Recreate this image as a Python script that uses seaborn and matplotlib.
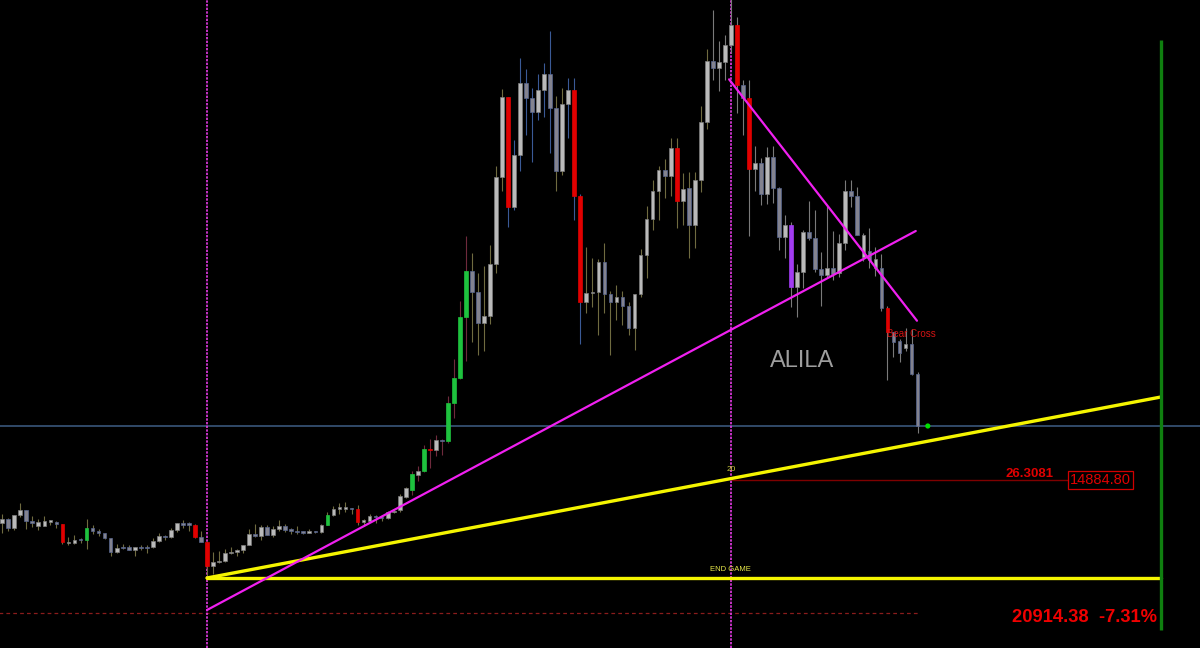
import numpy as np
import pandas as pd
import seaborn as sns
import matplotlib.pyplot as plt

# weekly candles, one per week (index 0 .. 152)
opens = [10190, 10590, 9530, 10980, 11580, 10320, 9840, 9760, 10390, 10300,
         10030, 8050, 7860, 8275, 8290, 9550, 9300, 9030, 8500, 6900,
         7400, 7510, 7100, 7510, 7330, 7420, 8180, 8700, 8600, 9350,
         10150, 10100, 9960, 8530, 8030, 5360, 5820, 5880, 6770, 6900,
         7120, 7700, 8900, 8720, 9670, 8840, 9450, 9750, 9380, 9300,
         9120, 9080, 9270, 9160, 9930, 11050, 11700, 11900, 11650, 11700,
         10300, 10330, 10930, 10770, 10670, 11380, 11600, 13030, 13800, 15480,
         15960, 18400, 18200, 19360, 19270, 23480, 26250, 33000, 38150, 35830,
         32340, 33100, 38900, 48620, 57460, 45200, 50980, 59000, 57320, 55840,
         58230, 60020, 56220, 49190, 56670, 58250, 46460, 34680, 35690, 35800,
         39160, 35600, 34700, 35300, 34250, 31780, 35540, 39900, 43880, 47020,
         49350, 48690, 51850, 45950, 47320, 43250, 48250, 54660, 61470, 60730,
         61320, 63240, 65460, 58800, 57320, 49470, 50100, 46650, 50840, 47310,
         41940, 43250, 36320, 37990, 42430, 41830, 38350, 37690, 38500, 37900,
         41300, 46990, 46430, 42150, 40400, 39470, 38430, 34000, 31360, 30350,
         29580, 30020, 26690]
highs = [11090, 10650, 11050, 12320, 11600, 10950, 10600, 10900, 10450, 10350,
         10080, 8550, 8800, 8420, 10540, 9940, 9500, 9075, 8520, 7850,
         7750, 7650, 7520, 7700, 7650, 8480, 9000, 8800, 9580, 10190,
         10500, 10300, 10030, 9200, 8180, 6900, 6980, 7200, 7470, 7300,
         7720, 9460, 10070, 9940, 9900, 9750, 10430, 9990, 9600, 9780,
         9300, 9460, 9280, 10000, 11400, 12050, 12400, 12480, 11800, 12100,
         10600, 11180, 10990, 11000, 11500, 11720, 13350, 14100, 15960, 16500,
         18800, 19420, 19900, 19420, 24300, 28400, 34800, 42000, 40100, 37950,
         38700, 41000, 49760, 58360, 57500, 52690, 61760, 60540, 58430, 59990,
         61250, 64800, 57580, 58430, 59540, 59610, 46640, 40830, 39580, 39430,
         41280, 35900, 36600, 35950, 34700, 35600, 40550, 45350, 48240, 49830,
         50550, 52960, 52960, 48980, 49160, 49160, 56460, 62760, 67130, 63690,
         64350, 69000, 66400, 59350, 59350, 52050, 50700, 51900, 52000, 47500,
         44400, 43610, 38910, 42690, 45910, 44910, 40300, 45380, 42600, 42300,
         48250, 48200, 47500, 42400, 42900, 40800, 40000, 34300, 31400, 30600,
         31800, 31700, 26900]
lows = [9070, 9200, 9380, 10800, 9450, 9740, 9330, 9750, 9890, 9600,
        7800, 7740, 7800, 7920, 7300, 8970, 8700, 8400, 6515, 6800,
        7200, 7100, 6430, 7100, 6850, 7400, 8050, 8260, 8500, 9150,
        9600, 9300, 8450, 8000, 3780, 4440, 5670, 5860, 6650, 6470,
        6800, 7690, 8530, 8200, 8800, 8630, 9250, 9100, 8900, 8900,
        8900, 9050, 9000, 9000, 9900, 10960, 11130, 11350, 11100, 9900,
        9850, 10200, 10140, 10400, 10530, 11200, 11400, 12960, 13200, 14800,
        15850, 16200, 17600, 17650, 19000, 21800, 26100, 28130, 30260, 28800,
        29200, 32300, 37900, 47000, 43060, 44900, 49300, 53240, 50280, 54900,
        55250, 51240, 46970, 48820, 52880, 43830, 30000, 33470, 34160, 31020,
        33430, 28800, 32700, 32100, 31000, 29340, 35200, 37320, 42690, 43800,
        46220, 46470, 42880, 43250, 39550, 40650, 46940, 53900, 59350, 58100,
        59400, 62300, 55650, 53240, 42000, 47000, 45470, 45600, 45700, 40460,
        39550, 34160, 33050, 36200, 41580, 38000, 34300, 37400, 37100, 37500,
        40500, 45200, 42100, 39200, 38500, 37600, 33700, 26000, 28600, 28000,
        29300, 26560, 20100]
closes = [10590, 9530, 10980, 11580, 10320, 10140, 10210, 10390, 10300, 10030,
          8050, 7860, 8275, 8220, 9550, 9200, 9030, 8500, 6900, 7400,
          7510, 7100, 7510, 7330, 7420, 8180, 8700, 8600, 9350, 10150,
          9900, 9960, 8530, 8030, 5360, 5820, 5880, 6770, 6900, 7120,
          7700, 8900, 8720, 9670, 8840, 9450, 9750, 9380, 9300, 9120,
          9080, 9270, 9160, 9930, 11050, 11680, 11900, 11650, 11680, 10300,
          10330, 10930, 10770, 10670, 11380, 11500, 13160, 14050, 15580, 15960,
          18400, 18200, 19360, 19270, 23480, 26250, 33000, 38150, 35830, 32340,
          33100, 38900, 48620, 57460, 45200, 50980, 59000, 57320, 55840, 58230,
          60020, 56220, 49190, 56670, 58250, 46460, 34680, 35690, 35800, 39160,
          35600, 34700, 35300, 34250, 31780, 35540, 39900, 43880, 47020, 49350,
          48690, 51850, 45950, 47300, 43250, 48250, 54660, 61470, 60730, 61320,
          63240, 65460, 58800, 57320, 49470, 50100, 46650, 50840, 47310, 41940,
          43250, 36320, 37990, 42430, 41830, 38350, 37690, 38500, 37800, 41300,
          46990, 46430, 42150, 39720, 39400, 38470, 33990, 31360, 30250, 29020,
          30020, 26690, 20914]

# body colour code per week: u light, d dark, r red, g green, p purple
body_codes = ("uduudduuud" "ruudgddddu" "ddudduuduu" "ddrdruuuuu" "uududuuddd"
              "duduguuudr" "uudduuuugu" "grudggggdd" "uuuuruuddu" "udduurruuu"
              "ddudduuuuu" "duruduuudu" "uurdrududd" "upuudddudu" "uddududrdd"
              "udd")
# wick colour code per week: o olive, m maroon, b blue, k grey
wick_codes = "o" * 68 + "m" * 10 + "o" * 6 + "b" * 8 + "o" * 2 + "b" * 3 + "o" * 21 + "k" * 35

last_price = 20914.38
change_pct = -7.31
target_level = 14884.80
target_ratio = "26.3081"
crash_week = 34
top_week = 121

# drawn trend lines: (weeks, prices)
yellow_rise = ([34, 192.4], [4030, 24136])
yellow_flat = ([34, 192.4], [4030, 4030])
magenta_rise = ([34, 151.7], [470, 42580])
magenta_fall = ([120.7, 151.9], [59430, 32610])

body_colors = {'u': ('#bababa', '#7c7c7c'), 'd': ('#83838f', '#56658f'),
               'r': ('#e10000', '#e10000'), 'g': ('#1ec23e', '#1ec23e'),
               'p': ('#a23cf2', '#a23cf2')}
wick_colors = {'o': '#6f6b40', 'm': '#6e2a3c', 'b': '#3a5a96', 'k': '#7a7a7a'}

df = pd.DataFrame({'open': opens, 'high': highs, 'low': lows, 'close': closes,
                   'body': list(body_codes), 'wick': list(wick_codes)})
df['week'] = np.arange(len(df))

sns.set_theme(style='dark', rc={'axes.facecolor': 'black', 'figure.facecolor': 'black'})
plt.rcParams['font.family'] = ['Liberation Sans', 'DejaVu Sans']

fig = plt.figure(figsize=(12, 6.48), dpi=100)
ax = fig.add_axes([0, 0, 1, 1])
ax.set_facecolor('black')

# level lines
ax.axhline(last_price, color='#3e5d85', lw=1.1, zorder=1)
ax.hlines(140, -1, 152.05, color='#8a1c1c', lw=0.9, linestyles=(0, (3, 2.5)), zorder=1)
ax.hlines(target_level, top_week, 177.1, color='#7e0000', lw=1.0, zorder=1)
for wk in [crash_week, top_week]:
    ax.axvline(wk, color='#e83ce8', lw=1.2, ls=(0, (1.4, 0.8)), zorder=1)

# candles
ax.vlines(df['week'], df['low'], df['high'],
          colors=[wick_colors[c] for c in df['wick']], lw=0.8, zorder=2)
bottoms = df[['open', 'close']].min(axis=1)
heights = (df['close'] - df['open']).abs().clip(lower=120)
ax.bar(df['week'], heights, bottom=bottoms, width=0.62,
       color=[body_colors[c][0] for c in df['body']],
       edgecolor=[body_colors[c][1] for c in df['body']], linewidth=0.5, zorder=3)

# trend lines
sns.lineplot(x=yellow_rise[0], y=yellow_rise[1], color='#f5f500', lw=2.4, ax=ax, zorder=4)
sns.lineplot(x=yellow_flat[0], y=yellow_flat[1], color='#f5f500', lw=2.4, ax=ax, zorder=4)
sns.lineplot(x=magenta_rise[0], y=magenta_rise[1], color='#f020f0', lw=1.6, ax=ax, zorder=4)
sns.lineplot(x=magenta_fall[0], y=magenta_fall[1], color='#f020f0', lw=1.6, ax=ax, zorder=4)

# right-hand marker line
ax.vlines(192.4, -1750, 63800, color='#0f7f0f', lw=2.4, zorder=4)

sns.scatterplot(x=[153.7], y=[last_price], color='#00e000', s=14, ax=ax, zorder=5,
                edgecolor='none')

# annotations
ax.text(top_week, 16100, '20', color='#c8c83c', fontsize=6, ha='center', va='center')
ax.text(top_week, 4950, 'END GAME', color='#e8e84a', fontsize=5.5, ha='center', va='center')
ax.text(132.8, 28150, 'ALILA', color='#9e9e9e', fontsize=17, ha='center', va='center')
ax.text(146.9, 31150, 'Bear Cross', color='#d41414', fontsize=7, ha='left', va='center')
ax.text(174.5, 15550, target_ratio, color='#e00000', fontsize=9.5, fontweight='bold',
        ha='right', va='center')
ax.text(182.4, 14900, f'{target_level:.2f}', color='#e00000', fontsize=10.5,
        ha='center', va='center',
        bbox=dict(boxstyle='square,pad=0.12', fc='black', ec='#d00000', lw=0.9))
ax.text(191.7, -380, f'{last_price:.2f}  {change_pct:.2f}%', color='#f00000',
        fontsize=13.2, fontweight='bold', ha='right', va='center')

ax.set_xlim(-0.37, 198.9)
ax.set_ylim(-3750, 68243)
ax.set_axis_off()

fig.savefig('out.png', dpi=100, facecolor='black')
